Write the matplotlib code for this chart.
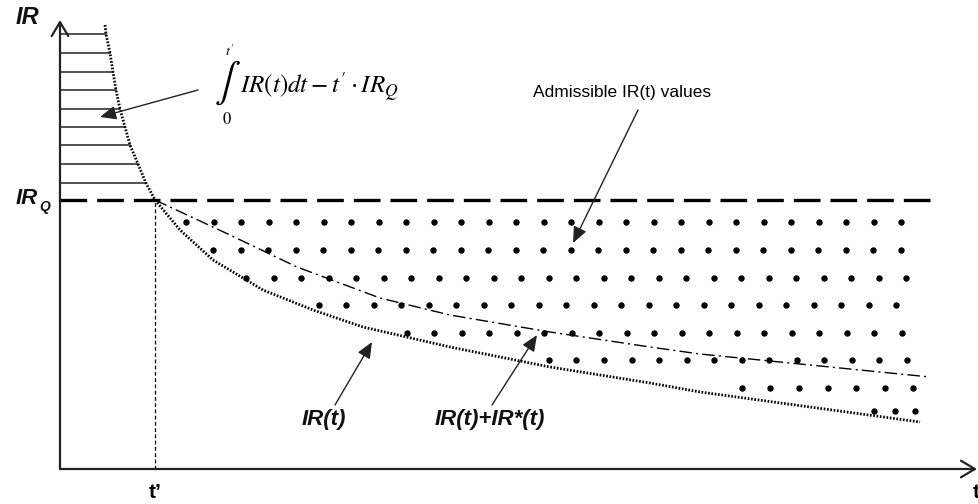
import numpy as np
import matplotlib.pyplot as plt

plt.rcParams['mathtext.fontset'] = 'stix'

# Required return curve IR(t) (t and IR in arbitrary units)
t_ir = [0.45, 0.46, 0.50, 0.53, 0.56, 0.60, 0.65, 0.70, 0.78, 0.86, 0.95,
        1.20, 1.53, 2.03, 2.53, 3.03, 3.90, 4.90, 5.90, 6.40, 8.60]
ir = [4.44, 4.35, 4.16, 3.97, 3.79, 3.60, 3.42, 3.24, 3.05, 2.86, 2.69,
      2.39, 2.09, 1.79, 1.59, 1.42, 1.22, 1.02, 0.86, 0.77, 0.47]

# IR(t) + IR*(t)
t_star = [0.95, 1.70, 2.37, 3.20, 3.90, 4.90, 5.90, 6.40, 8.70]
ir_star = [2.69, 2.34, 2.02, 1.71, 1.54, 1.37, 1.22, 1.15, 0.92]

IR_Q = 2.69
t_prime = 0.95

# horizontal hatch levels of the shaded area
hatch_levels = [4.35, 4.16, 3.97, 3.79, 3.60, 3.42, 3.24, 3.05, 2.86]

# dotted "admissible" region: rows of dots
row_ir = [2.47, 2.19, 1.91, 1.64, 1.36, 1.09, 0.81, 0.58]
row_start = [1.26, 1.53, 1.86, 2.59, 3.47, 4.89, 6.82, 8.14]
row_end = [8.62, 8.62, 8.65, 8.60, 8.60, 8.58, 8.55, 8.55]
row_step = [0.275, 0.275, 0.275, 0.275, 0.275, 0.275, 0.285, 0.205]

fig = plt.figure(figsize=(9.79, 5.04), dpi=100)
ax = fig.add_axes([0, 0, 1, 1])
ax.set_xlim(-0.60, 9.19)
ax.set_ylim(-0.35, 4.69)
ax.axis('off')

# axes with arrows
arrow_ax = dict(arrowstyle='->, head_length=0.5, head_width=0.3', lw=1.6,
                color='#222222', mutation_scale=20, shrinkA=0, shrinkB=0)
ax.annotate('', xy=(9.17, 0), xytext=(0, 0), arrowprops=arrow_ax)
ax.annotate('', xy=(0, 4.49), xytext=(0, 0), arrowprops=arrow_ax)

# hatched area
for lev in hatch_levels:
    x_end = np.interp(lev, ir[::-1], t_ir[::-1])
    ax.plot([0, x_end], [lev, lev], color='#222222', lw=1.1)

# IR_Q level and t' line
ax.plot([0, 8.72], [IR_Q, IR_Q], color='black', lw=2.4, dashes=(8, 3))
ax.plot([t_prime, t_prime], [0, IR_Q], color='black', lw=0.9, dashes=(3, 2))

# curves
ax.plot(t_ir, ir, color='black', lw=2.0, linestyle=(0, (0.6, 0.6)))
ax.plot(t_star, ir_star, color='black', lw=1.0, linestyle=(0, (9, 3, 1.5, 3)))

# admissible dots
for y, a, b, s in zip(row_ir, row_start, row_end, row_step):
    xs = np.arange(a, b + 0.01, s)
    ax.plot(xs, np.full(len(xs), y), 'o', color='black', ms=3.6)

# axis labels
lab = dict(fontweight='bold', style='italic', family='Liberation Sans',
           color='#111111')
ax.text(-0.33, 4.51, 'IR', fontsize=17, ha='center', va='center', **lab)
ax.text(-0.33, 2.71, 'IR', fontsize=16, ha='center', va='center', **lab)
ax.text(-0.15, 2.62, 'Q', fontsize=10, ha='center', va='center', **lab)
ax.text(t_prime, -0.24, 't\u2019', fontsize=15, fontweight='bold',
        family='Liberation Sans', ha='center', va='center')
ax.text(9.13, -0.24, 't', fontsize=15, fontweight='bold',
        family='Liberation Sans', ha='left', va='center')

# integral formula
ax.text(1.67, 3.86, r'$\int$', fontsize=28, ha='center', va='center')
ax.text(1.70, 4.18, r"$t'$", fontsize=10, ha='center', va='center')
ax.text(1.67, 3.50, r'$0$', fontsize=12, ha='center', va='center')
ax.text(1.80, 3.82, r"$IR(t)dt - t'\cdot IR_Q$", fontsize=18,
        ha='left', va='center')

arr = dict(arrowstyle='-|>, head_length=0.7, head_width=0.3', lw=1.0,
           color='#222222', mutation_scale=14, shrinkA=0, shrinkB=0)
ax.annotate('', xy=(0.40, 3.52), xytext=(1.38, 3.79), arrowprops=arr)

# admissible label
ax.text(5.62, 3.76, 'Admissible IR(t) values', fontsize=12.5,
        family='Liberation Sans', ha='center', va='center')
ax.annotate('', xy=(5.13, 2.26), xytext=(5.78, 3.59), arrowprops=arr)

# curve labels
ax.text(2.64, 0.50, 'IR(t)', fontsize=16, ha='center', va='center', **lab)
ax.annotate('', xy=(3.12, 1.27), xytext=(2.75, 0.64), arrowprops=arr)
ax.text(4.30, 0.50, 'IR(t)+IR*(t)', fontsize=16, ha='center', va='center', **lab)
ax.annotate('', xy=(4.77, 1.34), xytext=(4.32, 0.64), arrowprops=arr)

fig.savefig('out.png', dpi=100, facecolor='white')
